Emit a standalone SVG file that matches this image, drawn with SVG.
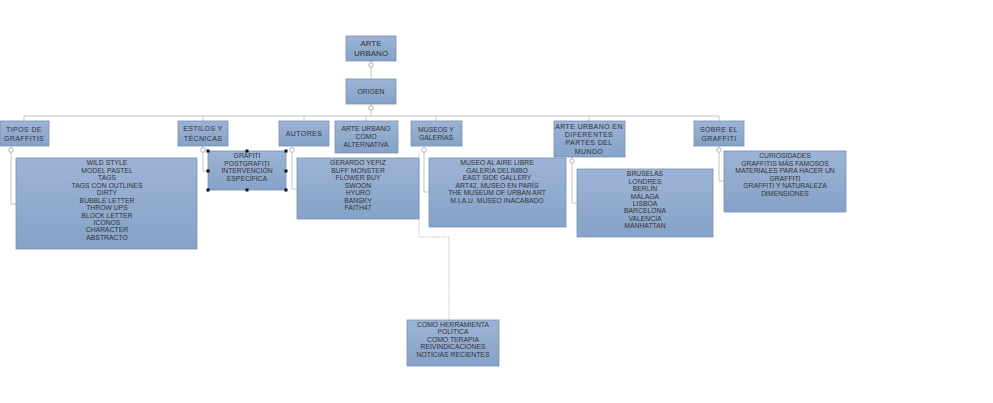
<svg xmlns="http://www.w3.org/2000/svg" width="993" height="403" viewBox="0 0 993 403">
<defs>
<linearGradient id="g" x1="0" y1="0" x2="0" y2="1">
<stop offset="0" stop-color="#9cb4d6"/>
<stop offset="1" stop-color="#86a2c8"/>
</linearGradient>
<style>
.box{fill:url(#g);stroke:#7a8fae;stroke-width:0.8}
.t{font-family:"Liberation Sans",Arial,sans-serif;font-size:6.8px;fill:#333;text-anchor:middle}
.h{font-family:"Liberation Sans",Arial,sans-serif;font-size:7px;fill:#333;text-anchor:middle;letter-spacing:0.4px}
.r{font-family:"Liberation Sans",Arial,sans-serif;font-size:8px;fill:#333;text-anchor:middle}
.c{fill:none;stroke:#c4c4c4;stroke-width:1}
.d{fill:none;stroke:#c4c4c4;stroke-width:1;stroke-dasharray:1.5 0.8}
.k{fill:#fff;stroke:#999;stroke-width:0.7}
.s{fill:#111}
</style>
</defs>
<rect width="993" height="403" fill="#fff"/>
<g id="connectors">
<path class="c" d="M371 61V79M371 104V116M24 116H719M24 116V121M203 116V121M304 116V121M366 116V121M436 116V121M589 116V121M719 116V121"/>
<path class="c" d="M11 146V204H16M203 146V171H208M292 146V189H297M424 146V192H429M572 157V203H577M719 146V181H724"/>
<path class="d" d="M419 153V237H449V320"/>
<circle class="k" cx="371" cy="65" r="2.3"/>
<circle class="k" cx="371" cy="108" r="2.3"/>
<circle class="k" cx="11" cy="150" r="2.3"/>
<circle class="k" cx="203" cy="150" r="2.3"/>
<circle class="k" cx="292" cy="150" r="2.3"/>
<circle class="k" cx="424" cy="150" r="2.3"/>
<circle class="k" cx="572" cy="161" r="2.3"/>
<circle class="k" cx="719" cy="150" r="2.3"/>
</g>
<g id="arte-urbano"><rect class="box" x="346" y="36" width="50" height="25"/><text class="r" x="371" y="46">ARTE</text><text class="r" x="371" y="56">URBANO</text></g>
<g id="origen"><rect class="box" x="346" y="79" width="50" height="25"/><text class="t" x="371" y="94">ORIGEN</text></g>
<g id="tipos"><rect class="box" x="0" y="121" width="49" height="25"/><text class="h" x="24" y="132">TIPOS DE</text><text class="h" x="24" y="141">GRAFFITIS</text></g>
<g id="estilos"><rect class="box" x="178" y="121" width="50" height="25"/><text class="h" x="203" y="131">ESTILOS Y</text><text class="h" x="203" y="141">TÉCNICAS</text></g>
<g id="autores"><rect class="box" x="279" y="121" width="50" height="25"/><text class="h" x="304" y="136">AUTORES</text></g>
<g id="alternativa"><rect class="box" x="335" y="121" width="63" height="32"/><text class="t" x="366" y="131">ARTE URBANO</text><text class="t" x="366" y="139">COMO</text><text class="t" x="366" y="147">ALTERNATIVA</text></g>
<g id="museos"><rect class="box" x="411" y="121" width="51" height="25"/><text class="t" x="436" y="132">MUSEOS Y</text><text class="t" x="436" y="140">GALERÍAS</text></g>
<g id="mundo"><rect class="box" x="554" y="121" width="71" height="36"/><text class="h" x="589" y="129">ARTE URBANO EN</text><text class="h" x="589" y="137">DIFERENTES</text><text class="h" x="589" y="145">PARTES DEL</text><text class="h" x="589" y="154">MUNDO</text></g>
<g id="sobre"><rect class="box" x="694" y="121" width="50" height="25"/><text class="h" x="719" y="132">SOBRE EL</text><text class="h" x="719" y="141">GRAFFITI</text></g>
<g id="tipos-lista"><rect class="box" x="16" y="158" width="181" height="91"/>
<text class="t" x="107" y="165">WILD STYLE</text><text class="t" x="107" y="172.5">MODEL PASTEL</text><text class="t" x="107" y="180">TAGS</text><text class="t" x="107" y="187.5">TAGS CON OUTLINES</text><text class="t" x="107" y="195">DIRTY</text><text class="t" x="107" y="202.5">BUBBLE LETTER</text><text class="t" x="107" y="210">THROW UPS</text><text class="t" x="107" y="217.5">BLOCK LETTER</text><text class="t" x="107" y="225">ICONOS</text><text class="t" x="107" y="232">CHARACTER</text><text class="t" x="107" y="239.5">ABSTRACTO</text></g>
<g id="estilos-lista"><rect class="box" x="208" y="151" width="78" height="39"/>
<text class="t" x="247" y="158">GRAFITI</text><text class="t" x="247" y="165.5">POSTGRAFITI</text><text class="t" x="247" y="173">INTERVENCIÓN</text><text class="t" x="247" y="180.5">ESPECÍFICA</text>
<rect class="s" x="206.5" y="149.5" width="3" height="3"/><rect class="s" x="245.5" y="149.5" width="3" height="3"/><rect class="s" x="284.5" y="149.5" width="3" height="3"/><rect class="s" x="206.5" y="169.5" width="3" height="3"/><rect class="s" x="284.5" y="169.5" width="3" height="3"/><rect class="s" x="206.5" y="188.5" width="3" height="3"/><rect class="s" x="245.5" y="188.5" width="3" height="3"/><rect class="s" x="284.5" y="188.5" width="3" height="3"/></g>
<g id="autores-lista"><rect class="box" x="297" y="158" width="122" height="61"/>
<text class="t" x="358" y="165">GERARDO YEPIZ</text><text class="t" x="358" y="172.5">BUFF MONSTER</text><text class="t" x="358" y="180">FLOWER BUY</text><text class="t" x="358" y="187.5">SWOON</text><text class="t" x="358" y="195">HYURO</text><text class="t" x="358" y="202.5">BANSKY</text><text class="t" x="358" y="210">FAITH47</text></g>
<g id="museos-lista"><rect class="box" x="429" y="158" width="137" height="69"/>
<text class="t" x="497" y="165">MUSEO AL AIRE LIBRE</text><text class="t" x="497" y="172.5">GALERÍA DELIMBO</text><text class="t" x="497" y="180">EAST SIDE GALLERY</text><text class="t" x="497" y="187.5">ART42, MUSEO EN PARÍS</text><text class="t" x="497" y="195">THE MUSEUM OF URBAN ART</text><text class="t" x="497" y="202.5">M.I.A.U. MUSEO INACABADO</text></g>
<g id="mundo-lista"><rect class="box" x="577" y="169" width="136" height="68"/>
<text class="t" x="645" y="176">BRUSELAS</text><text class="t" x="645" y="183.5">LONDRES</text><text class="t" x="645" y="191">BERLÍN</text><text class="t" x="645" y="198.5">MÁLAGA</text><text class="t" x="645" y="205.5">LISBOA</text><text class="t" x="645" y="213">BARCELONA</text><text class="t" x="645" y="220.5">VALENCIA</text><text class="t" x="645" y="228">MANHATTAN</text></g>
<g id="sobre-lista"><rect class="box" x="724" y="151" width="122" height="61"/>
<text class="t" x="785" y="158">CURIOSIDADES</text><text class="t" x="785" y="165.5">GRAFFITIS MÁS FAMOSOS</text><text class="t" x="785" y="173">MATERIALES PARA HACER UN</text><text class="t" x="785" y="180.5">GRAFFITI</text><text class="t" x="785" y="188">GRAFFITI Y NATURALEZA</text><text class="t" x="785" y="195.5">DIMENSIONES</text></g>
<g id="alternativa-lista"><rect class="box" x="407" y="320" width="92" height="46"/>
<text class="t" x="453" y="326.5">COMO HERRAMIENTA</text><text class="t" x="453" y="334">POLÍTICA</text><text class="t" x="453" y="341.5">COMO TERAPIA</text><text class="t" x="453" y="349">REIVINDICACIONES</text><text class="t" x="453" y="356.5">NOTICIAS RECIENTES</text></g>
</svg>
